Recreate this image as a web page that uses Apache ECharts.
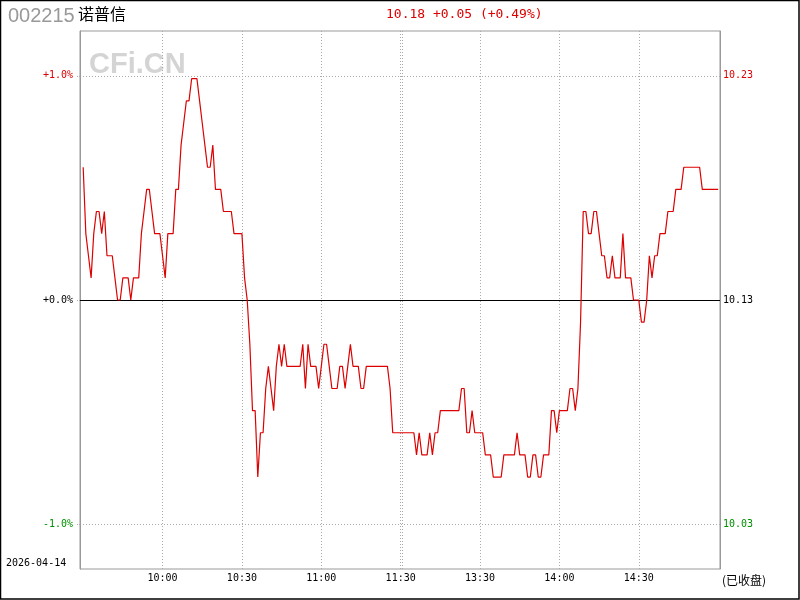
<!DOCTYPE html>
<html><head><meta charset="utf-8">
<script src="https://cdn.jsdelivr.net/npm/echarts@6/dist/echarts.min.js"></script>
<style>html,body{margin:0;padding:0;background:#fff}#c{width:800px;height:600px}</style>
</head><body><div id="c"></div>
<script>
const stockCode = '002215';
const stockName = '诺普信';
const headerText = '10.18 +0.05 (+0.49%)';
const prevClose = 10.13;
const tradeDate = '2026-04-14';
const statusText = '(已收盘)';
const watermarkText = 'CFi.CN';

// minute prices 9:30 ... 11:30, 13:01 ... 15:00 (241 points)
const prices = [
  10.19,10.16,10.15,10.14,10.16,10.17,10.17,10.16,10.17,10.15,
  10.15,10.15,10.14,10.13,10.13,10.14,10.14,10.14,10.13,10.14,
  10.14,10.14,10.16,10.17,10.18,10.18,10.17,10.16,10.16,10.16,
  10.15,10.14,10.16,10.16,10.16,10.18,10.18,10.20,10.21,10.22,
  10.22,10.23,10.23,10.23,10.22,10.21,10.20,10.19,10.19,10.20,
  10.18,10.18,10.18,10.17,10.17,10.17,10.17,10.16,10.16,10.16,
  10.16,10.14,10.13,10.11,10.08,10.08,10.05,10.07,10.07,10.09,
  10.10,10.09,10.08,10.10,10.11,10.10,10.11,10.10,10.10,10.10,
  10.10,10.10,10.10,10.11,10.09,10.11,10.10,10.10,10.10,10.09,
  10.10,10.11,10.11,10.10,10.09,10.09,10.09,10.10,10.10,10.09,
  10.10,10.11,10.10,10.10,10.10,10.09,10.09,10.10,10.10,10.10,
  10.10,10.10,10.10,10.10,10.10,10.10,10.09,10.07,10.07,10.07,
  10.07,10.07,10.07,10.07,10.07,10.07,10.06,10.07,10.06,10.06,
  10.06,10.07,10.06,10.07,10.07,10.08,10.08,10.08,10.08,10.08,
  10.08,10.08,10.08,10.09,10.09,10.07,10.07,10.08,10.07,10.07,
  10.07,10.07,10.06,10.06,10.06,10.05,10.05,10.05,10.05,10.06,
  10.06,10.06,10.06,10.06,10.07,10.06,10.06,10.06,10.05,10.05,
  10.06,10.06,10.05,10.05,10.06,10.06,10.06,10.08,10.08,10.07,
  10.08,10.08,10.08,10.08,10.09,10.09,10.08,10.09,10.12,10.17,
  10.17,10.16,10.16,10.17,10.17,10.16,10.15,10.15,10.14,10.14,
  10.15,10.14,10.14,10.14,10.16,10.14,10.14,10.14,10.13,10.13,
  10.13,10.12,10.12,10.13,10.15,10.14,10.15,10.15,10.16,10.16,
  10.16,10.17,10.17,10.17,10.18,10.18,10.18,10.19,10.19,10.19,
  10.19,10.19,10.19,10.19,10.18,10.18,10.18,10.18,10.18,10.18,10.18
];

const timeTickIndex = [30, 60, 90, 120, 150, 180, 210];
const timeTickLabels = ['10:00', '10:30', '11:00', '11:30', '13:30', '14:00', '14:30'];
const lunchSecondLine = 120.65;
const pctTicks = [1, 0, -1];
const pctTickLabels = ['+1.0%', '+0.0%', '-1.0%'];
const priceTickLabels = ['10.23', '10.13', '10.03'];
const tickColors = ['#dd0000', '#000000', '#009000'];

const seriesData = prices.map((p, i) => [i, (Math.round(p * 100) - Math.round(prevClose * 100)) / (prevClose * 100) * 100]);

const monoFont = '"DejaVu Sans Mono", "Liberation Mono", monospace';
const richStyles = {};
tickColors.forEach((c, k) => { richStyles['c' + k] = { color: c, fontFamily: monoFont, fontSize: 10 }; });

function tickKey(v) {
  return pctTicks.findIndex(t => Math.abs(t - v) < 1e-6);
}

const chart = echarts.init(document.getElementById('c'), null, { renderer: 'canvas' });
chart.setOption({
  animation: false,
  backgroundColor: '#ffffff',
  grid: { left: 80, top: 31, width: 640, height: 538, show: true, borderColor: '#999999', borderWidth: 1, backgroundColor: 'transparent' },
  xAxis: {
    type: 'value', min: -1.2, max: 240.7,
    axisLine: { show: false, onZero: false },
    axisTick: { show: false, customValues: timeTickIndex.concat([lunchSecondLine]) },
    splitLine: { show: true, lineStyle: { color: '#aaaaaa', type: [1, 2], width: 1 } },
    axisLabel: {
      customValues: timeTickIndex, margin: 4,
      fontFamily: monoFont, fontSize: 10, color: '#000',
      formatter: v => { const k = timeTickIndex.indexOf(Math.round(v)); return k >= 0 ? timeTickLabels[k] : ''; }
    }
  },
  yAxis: [
    {
      type: 'value', min: -1.2, max: 1.2, position: 'left',
      axisLine: { show: true, onZero: false, lineStyle: { color: '#999999' } },
      axisTick: { show: true, length: 4, customValues: pctTicks, lineStyle: { color: '#aaaaaa', type: [1, 1] } },
      splitLine: { show: true, lineStyle: { color: '#aaaaaa', type: [1, 2] } },
      axisLabel: {
        customValues: pctTicks, margin: 7, rich: richStyles,
        formatter: v => { const k = tickKey(v); return k >= 0 ? '{c' + k + '|' + pctTickLabels[k] + '}' : ''; }
      }
    },
    {
      type: 'value', min: -1.2, max: 1.2, position: 'right',
      axisLine: { show: true, onZero: false, lineStyle: { color: '#999999' } },
      axisTick: { show: false, customValues: pctTicks },
      splitLine: { show: false },
      axisLabel: {
        customValues: pctTicks, margin: 3, rich: richStyles,
        formatter: v => { const k = tickKey(v); return k >= 0 ? '{c' + k + '|' + priceTickLabels[k] + '}' : ''; }
      }
    }
  ],
  series: [{
    type: 'line', data: seriesData, showSymbol: false, symbol: 'none',
    lineStyle: { color: '#dd0000', width: 1.2 },
    z: 5,
    markLine: {
      silent: true, symbol: 'none', label: { show: false },
      lineStyle: { color: '#000000', type: 'solid', width: 1 },
      data: [{ yAxis: 0 }],
      z: 3
    }
  }],
  graphic: [
    { type: 'rect', silent: true, z: 100, shape: { x: 0.5, y: 0.5, width: 798.5, height: 598.5 }, style: { fill: 'none', stroke: '#000', lineWidth: 1.5 } },
    { type: 'text', z: -10, silent: true, x: 89, y: 64.5, style: { text: watermarkText, font: 'bold 29px "Liberation Sans", Arial, sans-serif', fill: '#d4d4d4', verticalAlign: 'middle' } },
    { type: 'text', silent: true, x: 8, y: 16, style: { text: stockCode, font: '20px "Liberation Sans", Arial, sans-serif', fill: '#999999', verticalAlign: 'middle' } },
    { type: 'text', silent: true, x: 78, y: 14, style: { text: stockName, font: '16px "Noto Sans CJK SC", sans-serif', fill: '#000000', verticalAlign: 'middle' } },
    { type: 'text', silent: true, x: 386, y: 14.5, style: { text: headerText, font: '13px ' + monoFont, fill: '#dd0000', verticalAlign: 'middle' } },
    { type: 'text', silent: true, x: 6, y: 563.5, style: { text: tradeDate, font: '10px ' + monoFont, fill: '#000000', verticalAlign: 'middle' } },
    { type: 'text', silent: true, x: 722, y: 580, style: { text: statusText, font: '12px "Noto Sans CJK SC", sans-serif', fill: '#000000', verticalAlign: 'middle' } }
  ]
});
</script></body></html>
